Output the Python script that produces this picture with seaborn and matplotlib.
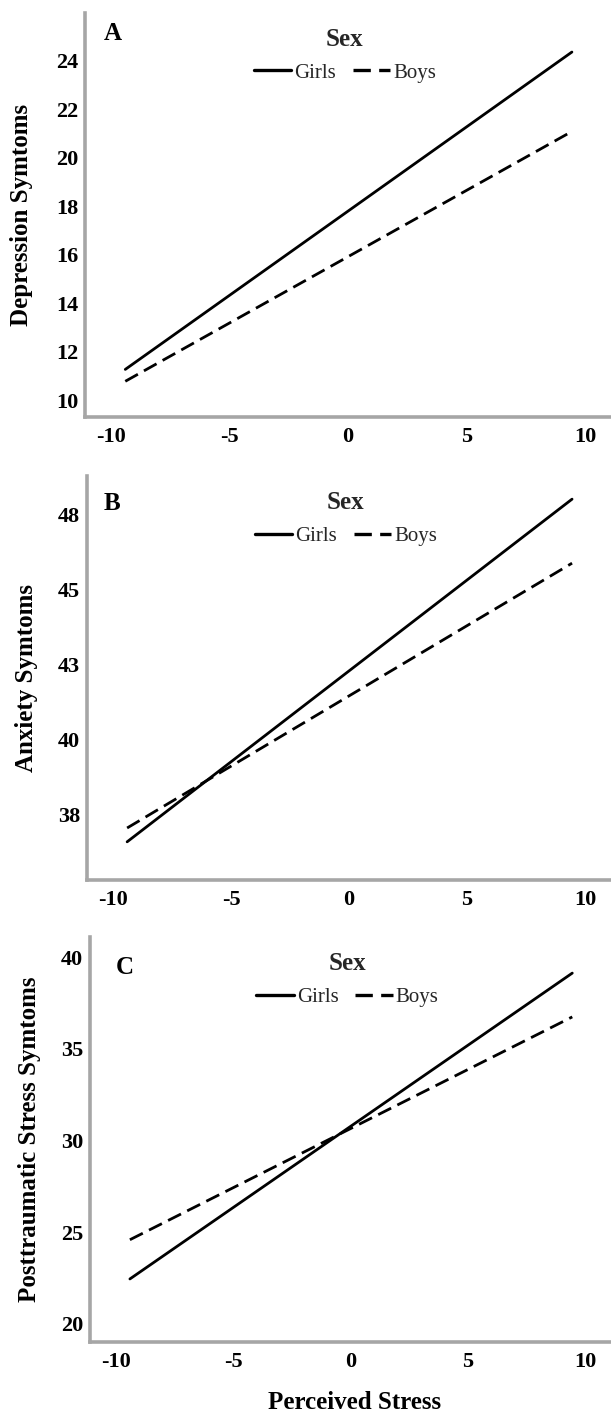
import matplotlib
matplotlib.use("Agg")
import matplotlib.pyplot as plt
import seaborn as sns
import pandas as pd

# ---------------- data ----------------
stress = [-9.4, 9.45]
sexes = ["Girls", "Boys"]

dep_girls = [11.28, 24.35]
dep_boys = [10.79, 21.08]

anx_girls = [36.6, 48.0]
anx_boys = [37.06, 45.87]

pts_girls = [22.44, 39.13]
pts_boys = [24.58, 36.74]

x_ticks = [-10, -5, 0, 5, 10]
x_tick_labels = ["-10", "-5", "0", "5", "10"]

dep_ticks = [10, 12, 14, 16, 18, 20, 22, 24]
dep_tick_labels = ["10", "12", "14", "16", "18", "20", "22", "24"]
anx_ticks = [37.5, 40, 42.5, 45, 47.5]
anx_tick_labels = ["38", "40", "43", "45", "48"]
pts_ticks = [20, 25, 30, 35, 40]
pts_tick_labels = ["20", "25", "30", "35", "40"]

panel_letters = ["A", "B", "C"]
y_titles = ["Depression Symtoms", "Anxiety Symtoms", "Posttraumatic Stress Symtoms"]
x_title = "Perceived Stress"
legend_title = "Sex"

# ---------------- style ----------------
sns.set_theme(style="white")
plt.rcParams["font.family"] = ["Liberation Serif", "DejaVu Serif"]
plt.rcParams["axes.unicode_minus"] = False

W, H = 611, 1419
fig = plt.figure(figsize=(W / 100, H / 100), dpi=100)

rects = [
    (85, 12.7, 417),
    (87, 476, 880),
    (90, 937, 1342),
]
ylims = [(9.32, 25.97), (35.33, 48.77), (19.0, 41.1)]
xlim = (-11.1, 11.1)
letter_pos = [(0.053, 0.948), (0.048, 0.931), (0.067, 0.924)]
label_x = [-0.12, -0.115, -0.117]

series = [
    (dep_girls, dep_boys, dep_ticks, dep_tick_labels),
    (anx_girls, anx_boys, anx_ticks, anx_tick_labels),
    (pts_girls, pts_boys, pts_ticks, pts_tick_labels),
]

spine_color = "#a6a6a6"

for i, ((left, top, bottom), (girls, boys, yt, ytl)) in enumerate(zip(rects, series)):
    ax = fig.add_axes([left / W, 1 - bottom / H, (W - left) / W, (bottom - top) / H])
    df = pd.DataFrame({
        "Perceived Stress": stress + stress,
        "value": girls + boys,
        "Sex": [sexes[0]] * len(stress) + [sexes[1]] * len(stress),
    })
    sns.lineplot(
        data=df, x="Perceived Stress", y="value", style="Sex",
        style_order=sexes, dashes={"Girls": "", "Boys": (5.2, 2.5)},
        color="black", linewidth=2.0, errorbar=None, legend=False, ax=ax,
    )
    ax.set_xlim(*xlim)
    ax.set_ylim(*ylims[i])
    ax.set_xticks(x_ticks)
    ax.set_xticklabels(x_tick_labels, fontsize=16, fontweight="bold")
    ax.set_yticks(yt)
    ax.set_yticklabels(ytl, fontsize=16, fontweight="bold")
    ax.tick_params(axis="both", length=0, colors="black")
    ax.tick_params(axis="y", pad=5)
    ax.tick_params(axis="x", pad=7)
    for s in ["top", "right"]:
        ax.spines[s].set_visible(False)
    for s in ["left", "bottom"]:
        ax.spines[s].set_color(spine_color)
        ax.spines[s].set_linewidth(2.6)
    ax.grid(False)

    ax.set_ylabel(y_titles[i], fontsize=18, fontweight="bold", color="black")
    ax.yaxis.label.set_va("center")
    ax.yaxis.set_label_coords(label_x[i], 0.5)
    if i == 2:
        ax.set_xlabel(x_title, fontsize=18, fontweight="bold", color="black")
        ax.xaxis.label.set_va("center")
        ax.xaxis.set_label_coords(0.507, -0.15)
    else:
        ax.set_xlabel("")

    ax.text(letter_pos[i][0], letter_pos[i][1], panel_letters[i],
            transform=ax.transAxes, ha="center", va="center",
            fontsize=18, fontweight="bold", color="black")

    lines = ax.get_lines()[:2]
    leg = ax.legend(lines, sexes, title=legend_title, loc="upper center",
                    bbox_to_anchor=(0.494, 0.963), ncol=2, frameon=False,
                    fontsize=15, handlelength=1.8, handletextpad=0.15,
                    columnspacing=0.8, borderpad=0, borderaxespad=0,
                    labelspacing=0.6)
    leg.get_title().set_fontsize(18)
    leg.get_title().set_fontweight("bold")
    for h in leg.legend_handles:
        h.set_linewidth(2.4)

fig.savefig("out.png", dpi=100)
